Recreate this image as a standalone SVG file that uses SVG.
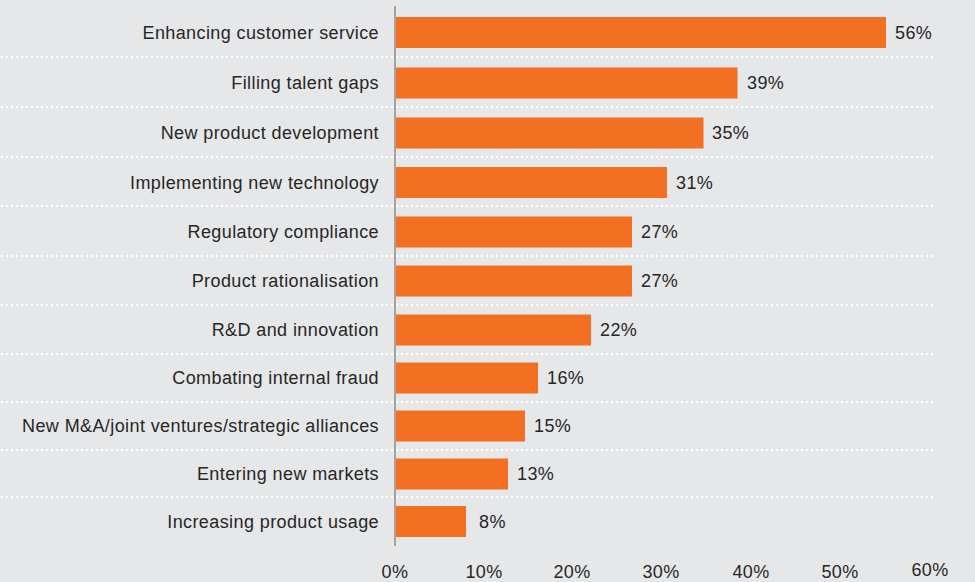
<svg xmlns="http://www.w3.org/2000/svg" width="975" height="582" viewBox="0 0 975 582">
<style>
.lbl{font-family:"Liberation Sans",Arial,sans-serif;font-size:18px;letter-spacing:0.4px;fill:#262626;text-anchor:end}
.val{font-family:"Liberation Sans",Arial,sans-serif;font-size:18px;letter-spacing:0.4px;fill:#262626}
.tick{font-family:"Liberation Sans",Arial,sans-serif;font-size:18px;letter-spacing:0.4px;fill:#262626;text-anchor:middle}
.bar{fill:#f36f21}
.dot{stroke:#ffffff;stroke-width:2;stroke-dasharray:2 3;fill:none}
</style>
<rect width="975" height="582" fill="#e6e7e9"/>
<g id="gridlines">
<line class="dot" x1="1" y1="57" x2="934" y2="57"/>
<line class="dot" x1="1" y1="107" x2="934" y2="107"/>
<line class="dot" x1="1" y1="157" x2="934" y2="157"/>
<line class="dot" x1="1" y1="206" x2="934" y2="206"/>
<line class="dot" x1="1" y1="256" x2="934" y2="256"/>
<line class="dot" x1="1" y1="305" x2="934" y2="305"/>
<line class="dot" x1="1" y1="354" x2="934" y2="354"/>
<line class="dot" x1="1" y1="402" x2="934" y2="402"/>
<line class="dot" x1="1" y1="450" x2="934" y2="450"/>
<line class="dot" x1="1" y1="497" x2="934" y2="497"/>
</g>
<g id="bar-0"><rect class="bar" x="396" y="17" width="490" height="31"/><text class="lbl" x="379" y="39">Enhancing customer service</text><text class="val" x="895" y="39">56%</text></g>
<g id="bar-1"><rect class="bar" x="396" y="67.5" width="341.5" height="31"/><text class="lbl" x="379" y="89">Filling talent gaps</text><text class="val" x="747" y="89">39%</text></g>
<g id="bar-2"><rect class="bar" x="396" y="117.5" width="307.5" height="31"/><text class="lbl" x="379" y="139">New product development</text><text class="val" x="712" y="139">35%</text></g>
<g id="bar-3"><rect class="bar" x="396" y="167" width="271" height="31"/><text class="lbl" x="379" y="188.5">Implementing new technology</text><text class="val" x="676" y="188.5">31%</text></g>
<g id="bar-4"><rect class="bar" x="396" y="216.5" width="236" height="31"/><text class="lbl" x="379" y="238">Regulatory compliance</text><text class="val" x="641" y="238">27%</text></g>
<g id="bar-5"><rect class="bar" x="396" y="265.5" width="236" height="31"/><text class="lbl" x="379" y="287">Product rationalisation</text><text class="val" x="641" y="287">27%</text></g>
<g id="bar-6"><rect class="bar" x="396" y="314.5" width="195" height="31"/><text class="lbl" x="379" y="336">R&amp;D and innovation</text><text class="val" x="600" y="336">22%</text></g>
<g id="bar-7"><rect class="bar" x="396" y="362.5" width="142" height="31"/><text class="lbl" x="379" y="384">Combating internal fraud</text><text class="val" x="547" y="384">16%</text></g>
<g id="bar-8"><rect class="bar" x="396" y="410.5" width="129" height="31"/><text class="lbl" x="379" y="432">New M&amp;A/joint ventures/strategic alliances</text><text class="val" x="534" y="432">15%</text></g>
<g id="bar-9"><rect class="bar" x="396" y="458.5" width="112" height="31"/><text class="lbl" x="379" y="480">Entering new markets</text><text class="val" x="517" y="480">13%</text></g>
<g id="bar-10"><rect class="bar" x="396" y="506" width="70" height="31"/><text class="lbl" x="379" y="527.5">Increasing product usage</text><text class="val" x="479" y="527.5">8%</text></g>
<g id="axis">
<line x1="395" y1="6" x2="395" y2="546" stroke="#aaa198" stroke-width="2"/>
<text class="tick" x="395" y="578">0%</text>
<text class="tick" x="484" y="578">10%</text>
<text class="tick" x="572" y="578">20%</text>
<text class="tick" x="661" y="578">30%</text>
<text class="tick" x="751" y="578">40%</text>
<text class="tick" x="840" y="578">50%</text>
<text class="tick" x="930" y="576">60%</text>
</g>
</svg>
